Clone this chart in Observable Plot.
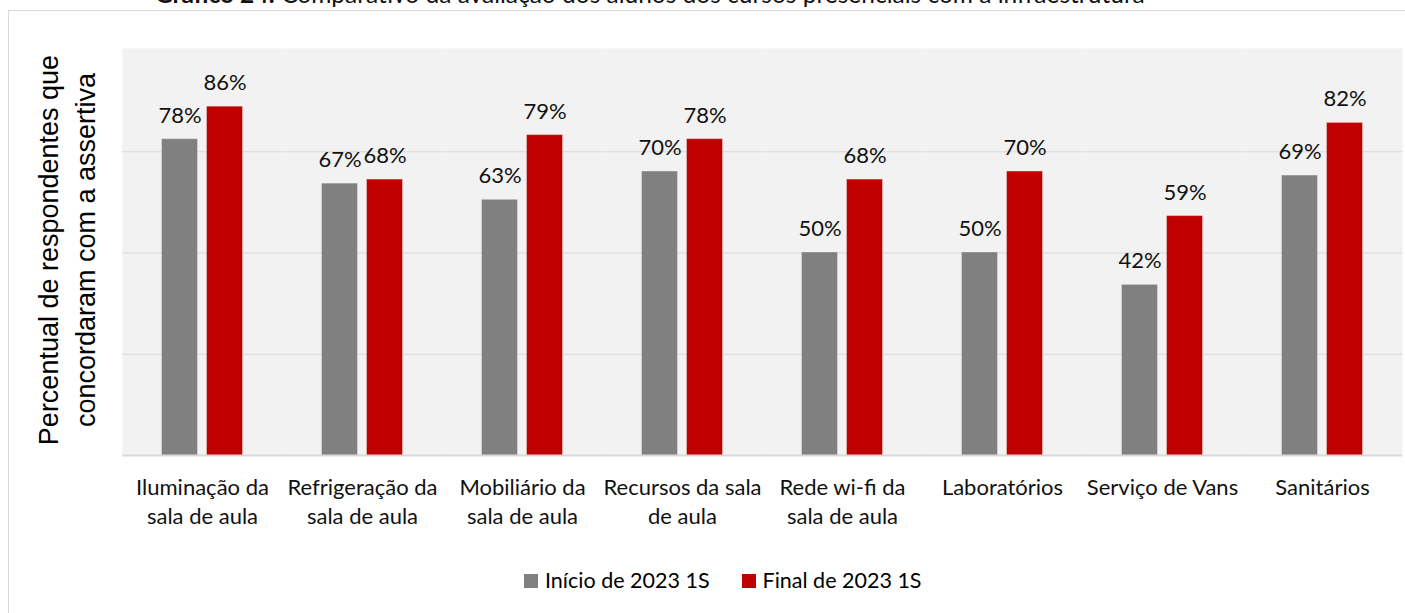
<!DOCTYPE html>
<html>
<head>
<meta charset="utf-8">
<script src="https://cdn.jsdelivr.net/npm/d3@7"></script>
<script src="https://cdn.jsdelivr.net/npm/@observablehq/plot@0.6"></script>
<style>
  html, body { margin: 0; padding: 0; background: #fff; width: 1405px; height: 613px; overflow: hidden; }
  #wrap { position: relative; width: 1405px; height: 613px; }
  #border { position: absolute; left: 8px; top: 10px; width: 1440px; height: 640px; border: 1.5px solid #d9d9d9; box-sizing: border-box; }
  #title { position: absolute; left: 155px; top: -21px; font-family: Lato, sans-serif; font-size: 24.5px; color: #111; white-space: nowrap; }
  #chart { position: absolute; left: 0; top: 0; }
  #ylabel { position: absolute; left: 68px; top: 250px; transform: translate(-50%, -50%) rotate(-90deg); font-family: "Liberation Sans", Arial, sans-serif; font-size: 27px; line-height: 37px; text-align: center; white-space: nowrap; color: #000; }
  #legend { position: absolute; top: 567px; left: 524px; font-family: Lato, sans-serif; font-size: 21.5px; color: #000; display: flex; gap: 32px; white-space: nowrap; }
  #legend span.sw { display: inline-block; width: 14px; height: 14px; margin-right: 7px; vertical-align: 0px; }
</style>
</head>
<body>
<div id="wrap">
  <div id="border"></div>
  <div id="title"><b>Gráfico 24:</b> Comparativo da avaliação dos alunos dos cursos presenciais com a infraestrutura</div>
  <div id="chart"></div>
  <div id="ylabel">Percentual de respondentes que<br>concordaram com a assertiva</div>
  <div id="legend"></div>
</div>
<script>
const categories = ["Iluminação da sala de aula", "Refrigeração da sala de aula", "Mobiliário da sala de aula", "Recursos da sala de aula", "Rede wi-fi da sala de aula", "Laboratórios", "Serviço de Vans", "Sanitários"];
const tickLabels = ["Iluminação da\nsala de aula", "Refrigeração da\nsala de aula", "Mobiliário da\nsala de aula", "Recursos da sala\nde aula", "Rede wi-fi da\nsala de aula", "Laboratórios", "Serviço de Vans", "Sanitários"];
const series = ["Início de 2023 1S", "Final de 2023 1S"];
const inicio = [78, 67, 63, 70, 50, 50, 42, 69];
const final = [86, 68, 79, 78, 68, 70, 59, 82];
const colors = ["#808080", "#c00000"];
const gridTicks = [25, 50, 75];

const data = [];
categories.forEach((c, i) => {
  data.push({category: c, series: series[0], value: inicio[i]});
  data.push({category: c, series: series[1], value: final[i]});
});

const chart = Plot.plot({
  width: 1405,
  height: 545,
  marginLeft: 122,
  marginRight: 3,
  marginTop: 48,
  marginBottom: 90,
  style: {fontFamily: "Lato, sans-serif", fontSize: "22px", color: "#000", background: "transparent"},
  fx: {domain: categories, padding: 0, label: null},
  x: {domain: series, paddingInner: 0.22, paddingOuter: 0.85, axis: null},
  y: {domain: [0, 100.5], axis: null},
  color: {domain: series, range: colors},
  marks: [
    Plot.frame({fill: "#f2f2f2", stroke: null}),
    Plot.gridY(gridTicks, {stroke: "#d9d9d9", strokeOpacity: 1, strokeWidth: 1}),
    Plot.barY(data, {fx: "category", x: "series", y: "value", fill: "series", stroke: "series", strokeOpacity: 0.6, strokeWidth: 1}),
    Plot.ruleY([0], {stroke: "#d9d9d9", strokeWidth: 2}),
    Plot.text(data, {fx: "category", x: "series", y: "value", text: d => d.value + "%", lineAnchor: "bottom", dy: -17, fontSize: 22, fill: "#111"}),
    Plot.axisFx({anchor: "bottom", tickSize: 0, tickPadding: 19, lineHeight: 1.32, fontSize: 22, tickFormat: d => tickLabels[categories.indexOf(d)], fill: "#111", label: null})
  ]
});
document.getElementById("chart").appendChild(chart);

const legend = document.getElementById("legend");
series.forEach((s, i) => {
  const item = document.createElement("div");
  const sw = document.createElement("span");
  sw.className = "sw";
  sw.style.background = colors[i];
  item.appendChild(sw);
  item.appendChild(document.createTextNode(s));
  legend.appendChild(item);
});
</script>
</body>
</html>
